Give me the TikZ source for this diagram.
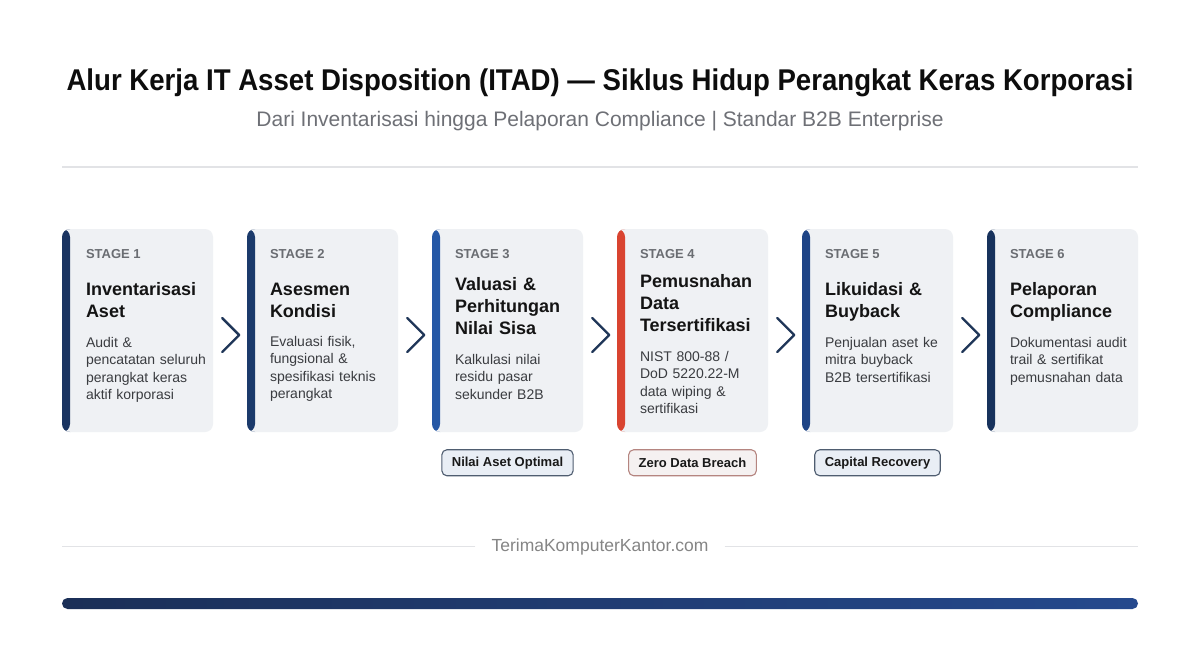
\documentclass[tikz,border=0pt]{standalone}
\usepackage{fontspec}
\setmainfont{Liberation Sans}
\newfontfamily\headfont[FakeStretch=0.92]{Liberation Sans}
\usetikzlibrary{positioning}

\definecolor{cardgray}{HTML}{EFF1F4}
\definecolor{stagegray}{HTML}{6A6D72}
\definecolor{descgray}{HTML}{3A3C40}
\definecolor{subgray}{HTML}{6E7076}
\definecolor{rulegray}{HTML}{E2E3E6}
\definecolor{chevblue}{HTML}{1F3658}
\definecolor{barone}{HTML}{1A3461}
\definecolor{bartwo}{HTML}{1B3A6B}
\definecolor{barthree}{HTML}{2557A5}
\definecolor{barfour}{HTML}{D94430}
\definecolor{barfive}{HTML}{1E4486}
\definecolor{barsix}{HTML}{17325C}
\definecolor{badgefill}{HTML}{E9EEF5}
\definecolor{badgeedge}{HTML}{4F5D70}
\definecolor{redfill}{HTML}{F5F1F1}
\definecolor{rededge}{HTML}{B58580}
\definecolor{footdark}{HTML}{1B2F57}
\definecolor{footblue}{HTML}{25498D}

\tikzset{
  card/.style={fill=cardgray, rounded corners=8pt, minimum width=151pt, minimum height=203pt, inner sep=0pt,
    path picture={\fill[#1] (path picture bounding box.south west) rectangle ([xshift=8pt]path picture bounding box.north west);}},
  stagelbl/.style={font=\bfseries\fontsize{13}{15}\selectfont, text=stagegray, inner sep=0pt},
  stagettl/.style={font=\bfseries\fontsize{18}{22}\selectfont, text=black!92, inner sep=0pt, text width=128pt, align=left,
    execute at end node=\vphantom{p}},
  stagedesc/.style={font=\fontsize{14}{17.5}\selectfont, text=descgray, inner sep=0pt, text width=125pt, align=left},
  chev/.style={draw=chevblue, line width=2.4pt, line cap=round, line join=round},
  badge/.style={draw=badgeedge, fill=badgefill, rounded corners=5pt, line width=1.1pt, inner xsep=10pt, minimum height=26pt,
    font=\bfseries\fontsize{13}{15}\selectfont, text=black!90},
  thinrule/.style={draw=rulegray, line width=1.2pt}
}

\begin{document}
\begin{tikzpicture}[x=1pt, y=-1pt]
  \fill[white] (0,0) rectangle (1200,670);
  \useasboundingbox (0,0) rectangle (1200,670);

  % heading
  \node[anchor=base, font=\headfont\bfseries\fontsize{30}{36}\selectfont, text=black!95] (title) at (600,90)
    {Alur Kerja IT Asset Disposition (ITAD) — Siklus Hidup Perangkat Keras Korporasi};
  \node[anchor=base, font=\fontsize{21}{25}\selectfont, text=subgray] (subtitle) at (600,126)
    {Dari Inventarisasi hingga Pelaporan Compliance | Standar B2B Enterprise};
  \coordinate (lm) at (62,167);
  \coordinate (rm) at (1138,167);
  \draw[thinrule] (lm) -- (rm);

  % cards
  \node[card=barone] (card1) at (137.5,330.5) {};
  \node[card=bartwo] (card2) at (322.5,330.5) {};
  \node[card=barthree] (card3) at (507.5,330.5) {};
  \node[card=barfour] (card4) at (692.5,330.5) {};
  \node[card=barfive] (card5) at (877.5,330.5) {};
  \node[card=barsix] (card6) at (1062.5,330.5) {};

  % stage 1
  \node[stagelbl, anchor=west] (s1) at ([xshift=24pt,yshift=-25pt]card1.north west) {STAGE 1};
  \node[stagettl, below=24pt of s1.south west, anchor=north west] (t1) {Inventarisasi\\Aset};
  \node[stagedesc, below=15pt of t1.south west, anchor=north west] (d1)
    {Audit \&\\pencatatan seluruh\\perangkat keras\\aktif korporasi};
  % stage 2
  \node[stagelbl, anchor=west] (s2) at ([xshift=23pt,yshift=-25pt]card2.north west) {STAGE 2};
  \node[stagettl, below=24pt of s2.south west, anchor=north west] (t2) {Asesmen\\Kondisi};
  \node[stagedesc, below=15pt of t2.south west, anchor=north west] (d2)
    {Evaluasi fisik,\\fungsional \&\\spesifikasi teknis\\perangkat};
  % stage 3
  \node[stagelbl, anchor=west] (s3) at ([xshift=23pt,yshift=-25pt]card3.north west) {STAGE 3};
  \node[stagettl, below=19pt of s3.south west, anchor=north west] (t3) {Valuasi \&\\Perhitungan\\Nilai Sisa};
  \node[stagedesc, below=15pt of t3.south west, anchor=north west] (d3)
    {Kalkulasi nilai\\residu pasar\\sekunder B2B};
  % stage 4
  \node[stagelbl, anchor=west] (s4) at ([xshift=23pt,yshift=-25pt]card4.north west) {STAGE 4};
  \node[stagettl, below=16pt of s4.south west, anchor=north west] (t4) {Pemusnahan\\Data\\Tersertifikasi};
  \node[stagedesc, below=15pt of t4.south west, anchor=north west] (d4)
    {NIST 800-88 /\\DoD 5220.22-M\\data wiping \&\\sertifikasi};
  % stage 5
  \node[stagelbl, anchor=west] (s5) at ([xshift=23pt,yshift=-25pt]card5.north west) {STAGE 5};
  \node[stagettl, below=24pt of s5.south west, anchor=north west] (t5) {Likuidasi \&\\Buyback};
  \node[stagedesc, below=15pt of t5.south west, anchor=north west] (d5)
    {Penjualan aset ke\\mitra buyback\\B2B tersertifikasi};
  % stage 6
  \node[stagelbl, anchor=west] (s6) at ([xshift=23pt,yshift=-25pt]card6.north west) {STAGE 6};
  \node[stagettl, below=24pt of s6.south west, anchor=north west] (t6) {Pelaporan\\Compliance};
  \node[stagedesc, below=15pt of t6.south west, anchor=north west] (d6)
    {Dokumentasi audit\\trail \& sertifikat\\pemusnahan data};

  % chevrons
  \draw[chev] ([xshift=9pt,yshift=12.5pt]card1.east) -- ([xshift=26pt,yshift=-4.5pt]card1.east) -- ([xshift=9pt,yshift=-21.5pt]card1.east);
  \draw[chev] ([xshift=9pt,yshift=12.5pt]card2.east) -- ([xshift=26pt,yshift=-4.5pt]card2.east) -- ([xshift=9pt,yshift=-21.5pt]card2.east);
  \draw[chev] ([xshift=9pt,yshift=12.5pt]card3.east) -- ([xshift=26pt,yshift=-4.5pt]card3.east) -- ([xshift=9pt,yshift=-21.5pt]card3.east);
  \draw[chev] ([xshift=9pt,yshift=12.5pt]card4.east) -- ([xshift=26pt,yshift=-4.5pt]card4.east) -- ([xshift=9pt,yshift=-21.5pt]card4.east);
  \draw[chev] ([xshift=9pt,yshift=12.5pt]card5.east) -- ([xshift=26pt,yshift=-4.5pt]card5.east) -- ([xshift=9pt,yshift=-21.5pt]card5.east);

  % outcome badges
  \node[badge, below=17pt of card3] (b3) {Nilai Aset Optimal};
  \node[badge, below=17pt of card4, draw=rededge, fill=redfill] (b4) {Zero Data Breach};
  \node[badge, below=17pt of card5] (b5) {Capital Recovery};

  % footer
  \node[anchor=base, font=\fontsize{17.5}{21}\selectfont, text=black!48, inner xsep=16pt] (site) at (600,551)
    {TerimaKomputerKantor.com};
  \draw[thinrule] (site.west) -- (site.west -| lm);
  \draw[thinrule] (site.east) -- (site.east -| rm);
  \shade[left color=footdark, right color=footblue, rounded corners=5.5pt] (62,598) rectangle (1138,609);
\end{tikzpicture}
\end{document}
